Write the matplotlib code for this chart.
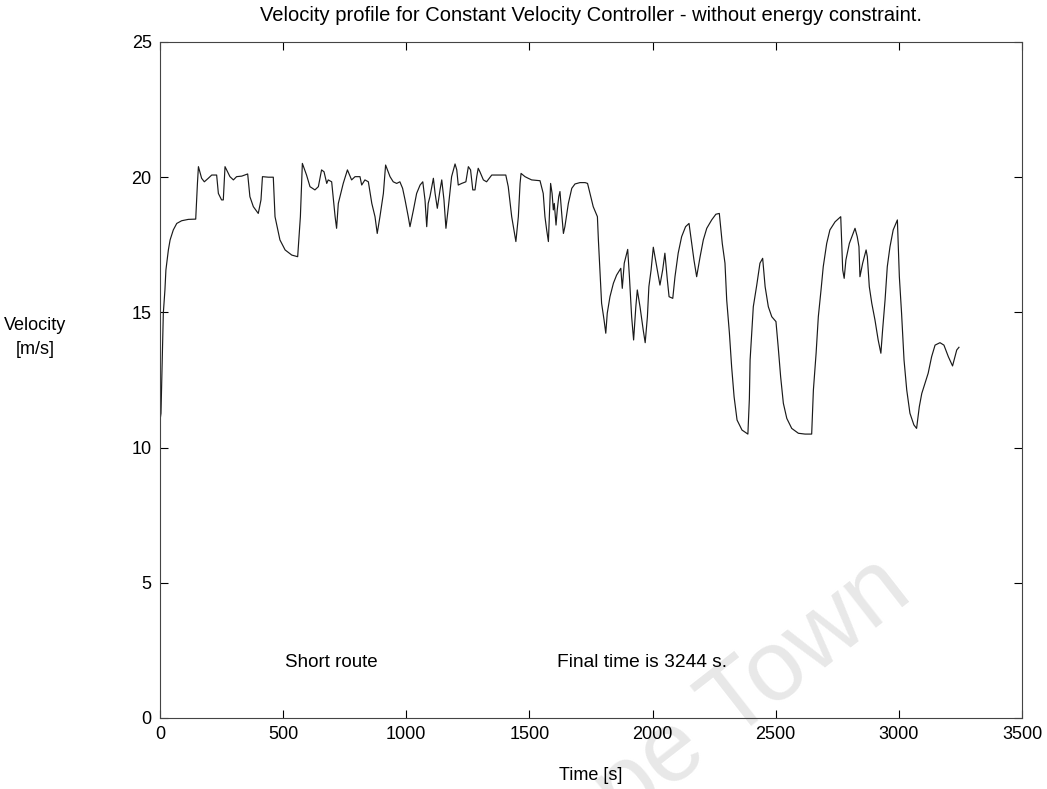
import numpy as np
import matplotlib
matplotlib.use('Agg')
import matplotlib.pyplot as plt

plt.rcParams['font.family'] = ['Liberation Sans', 'DejaVu Sans']
plt.rcParams['font.size'] = 13

# Velocity trace (time in s, velocity in m/s)
time_s = [
    0, 4, 9.5, 13.5, 20, 24, 34, 41, 54, 68, 88, 115, 145, 152, 156, 169, 180,
    196, 210, 230, 237, 250, 257, 264, 284, 298, 311, 332, 356, 365, 379, 399,
    410, 416, 440, 460, 467, 487, 508, 535, 559, 564, 570, 578, 595, 609, 629,
    643, 656, 666, 677, 683, 697, 711, 717, 724, 744, 761, 778, 792, 812, 819,
    832, 846, 860, 873, 882, 893, 907, 916, 934, 947, 961, 974, 985, 995, 1008,
    1015, 1029, 1042, 1056, 1067, 1076, 1083, 1089, 1096, 1110, 1117, 1126,
    1137, 1144, 1153, 1161, 1171, 1184, 1198, 1205, 1211, 1225, 1242, 1252,
    1261, 1270, 1279, 1286, 1292, 1299, 1313, 1326, 1347, 1380, 1404, 1414,
    1428, 1437, 1445, 1455, 1462, 1466, 1482, 1495, 1509, 1543, 1556, 1563,
    1570, 1577, 1581, 1586, 1592, 1597, 1601, 1608, 1613, 1619, 1624, 1631,
    1638, 1644, 1658, 1672, 1685, 1705, 1726, 1736, 1746, 1759, 1776, 1780,
    1787, 1793, 1803, 1810, 1816, 1827, 1841, 1854, 1871, 1877, 1885, 1899,
    1906, 1915, 1923, 1932, 1938, 1949, 1962, 1970, 1979, 1985, 1994, 2003,
    2017, 2030, 2041, 2050, 2060, 2067, 2082, 2091, 2104, 2118, 2134, 2148,
    2159, 2168, 2179, 2193, 2206, 2220, 2240, 2257, 2271, 2283, 2294, 2301,
    2312, 2321, 2331, 2343, 2363, 2387, 2393, 2396, 2409, 2423, 2436, 2447,
    2457, 2470, 2484, 2501, 2510, 2520, 2531, 2545, 2565, 2592, 2619, 2646,
    2653, 2664, 2673, 2684, 2693, 2707, 2720, 2741, 2764, 2768, 2772, 2778,
    2785, 2799, 2822, 2831, 2838, 2842, 2853, 2867, 2872, 2880, 2890, 2903,
    2916, 2927, 2934, 2944, 2953, 2964, 2977, 2994, 3002, 3011, 3021, 3032,
    3045, 3061, 3072, 3083, 3093, 3106, 3119, 3133, 3147, 3167, 3183, 3201,
    3218, 3235, 3244,
]
velocity = [
    11.0, 11.27, 13.36, 14.97, 15.83, 16.57, 17.31, 17.68, 18.05, 18.29, 18.39,
    18.44, 18.45, 19.77, 20.39, 19.96, 19.83, 19.96, 20.08, 20.08, 19.40, 19.16,
    19.16, 20.39, 20.02, 19.90, 20.02, 20.04, 20.12, 19.28, 18.91, 18.66, 19.16,
    20.02, 20.0, 20.0, 18.54, 17.68, 17.31, 17.12, 17.06, 17.74, 18.54, 20.51,
    20.08, 19.65, 19.53, 19.65, 20.27, 20.2, 19.77, 19.9, 19.83, 18.54, 18.11,
    19.03, 19.77, 20.27, 19.9, 20.02, 20.02, 19.71, 19.9, 19.83, 19.03, 18.54,
    17.92, 18.54, 19.40, 20.45, 20.02, 19.83, 19.77, 19.83, 19.59, 19.16, 18.54,
    18.17, 18.79, 19.40, 19.71, 19.83, 19.16, 18.17, 19.03, 19.28, 19.96, 19.40,
    18.85, 19.53, 19.9, 19.16, 18.11, 18.91, 20.02, 20.49, 20.27, 19.71, 19.77,
    19.83, 20.39, 20.27, 19.53, 19.53, 20.02, 20.33, 20.2, 19.9, 19.83, 20.08,
    20.08, 20.08, 19.65, 18.54, 18.05, 17.62, 18.54, 19.77, 20.14, 20.02, 19.96,
    19.9, 19.87, 19.40, 18.54, 18.05, 17.62, 18.54, 19.77, 19.40, 18.79, 19.03,
    18.23, 18.79, 19.28, 19.47, 18.66, 17.92, 18.17, 19.03, 19.59, 19.75, 19.80,
    19.80, 19.77, 19.40, 18.91, 18.54, 17.68, 16.45, 15.34, 14.72, 14.23, 14.97,
    15.58, 16.08, 16.38, 16.63, 15.89, 16.82, 17.33, 16.32, 14.84, 13.98, 15.21,
    15.83, 15.21, 14.35, 13.88, 14.84, 15.95, 16.57, 17.41, 16.69, 16.01, 16.57,
    17.19, 16.20, 15.58, 15.52, 16.32, 17.19, 17.80, 18.17, 18.29, 17.55, 16.94,
    16.32, 17.06, 17.68, 18.11, 18.42, 18.63, 18.66, 17.55, 16.82, 15.46, 14.23,
    12.99, 11.88, 11.02, 10.65, 10.5, 11.8, 13.24, 15.21, 16.01, 16.82, 17.0,
    15.95, 15.21, 14.84, 14.66, 13.73, 12.62, 11.64, 11.08, 10.71, 10.53, 10.5,
    10.5, 12.13, 13.49, 14.84, 15.83, 16.69, 17.55, 18.05, 18.35, 18.54, 17.55,
    16.57, 16.26, 16.94, 17.55, 18.11, 17.80, 17.43, 16.32, 16.82, 17.31, 17.06,
    15.95, 15.34, 14.72, 13.98, 13.49, 14.35, 15.46, 16.69, 17.43, 18.05, 18.42,
    16.32, 14.97, 13.24, 12.13, 11.27, 10.84, 10.71, 11.51, 12.0, 12.38, 12.75,
    13.36, 13.79, 13.88, 13.79, 13.36, 13.02, 13.61, 13.71,
]

x_ticks = [0, 500, 1000, 1500, 2000, 2500, 3000, 3500]
y_ticks = [0, 5, 10, 15, 20, 25]

fig = plt.figure(figsize=(10.47, 7.89), dpi=100)
ax = fig.add_axes([160 / 1047, 1 - 718 / 789, 862 / 1047, 676 / 789])

# faint watermark across the lower right, behind the axes
fig.text(915, 789 - 598, 'Cape Town', transform=None, fontsize=72,
         color='#e8e8e8', rotation=38, rotation_mode='anchor',
         ha='right', va='baseline', zorder=-1)
ax.patch.set_alpha(0)

ax.plot(time_s, velocity, color='#1a1a1a', linewidth=0.85)

ax.set_xlim(0, 3500)
ax.set_ylim(0, 25)
ax.set_xticks(x_ticks)
ax.set_yticks(y_ticks)
ax.tick_params(direction='in', top=True, right=True, length=6, width=0.8,
               labelsize=13, pad=6)
for s in ax.spines.values():
    s.set_linewidth(0.8)
    s.set_color('#444444')

ax.set_title('Velocity profile for Constant Velocity Controller - without energy constraint.',
             fontsize=14.5, pad=15)
ax.set_xlabel('Time [s]', fontsize=13, labelpad=17)
ax.set_ylabel('Velocity\n[m/s]', fontsize=13, rotation=0, ha='center',
              va='center', linespacing=1.5)
ax.yaxis.set_label_coords(-0.145, 0.563)

ax.text(507, 2.07, 'Short route', fontsize=13.5, va='center')
ax.text(1612, 2.07, 'Final time is 3244 s.', fontsize=13.8, va='center')

fig.savefig('out.png', dpi=100)
